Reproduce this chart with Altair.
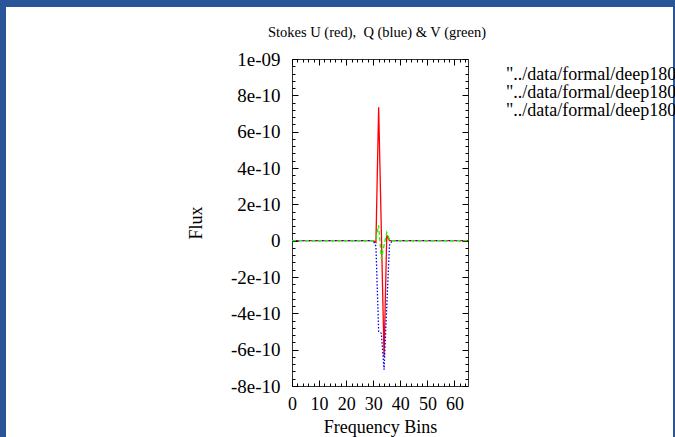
import altair as alt
import pandas as pd

# ---------------- data ----------------
bins = list(range(66))
stokes_u = [0, 0, 0, 0, 0, 0, 0, 0, 0, 0,
            0, 0, 0, 0, 0, 0, 0, 0, 0, 0,
            0, 0, 0, 0, 0, 0, 0, 0, 0, 0,
            0, -0.1e-10, 7.35e-10, 0.5e-10, -6.4e-10, 0.3e-10, 0, 0, 0, 0,
            0, 0, 0, 0, 0, 0, 0, 0, 0, 0,
            0, 0, 0, 0, 0, 0, 0, 0, 0, 0,
            0, 0, 0, 0, 0, 0]
stokes_q = [0, 0, 0, 0, 0, 0, 0, 0, 0, 0,
            0, 0, 0, 0, 0, 0, 0, 0, 0, 0,
            0, 0, 0, 0, 0, 0, 0, 0, 0, 0,
            0, -0.3e-10, -5.0e-10, -5.1e-10, -7.1e-10, -3.6e-10, -0.25e-10, 0, 0, 0,
            0, 0, 0, 0, 0, 0, 0, 0, 0, 0,
            0, 0, 0, 0, 0, 0, 0, 0, 0, 0,
            0, 0, 0, 0, 0, 0]
stokes_v = [0, 0, 0, 0, 0, 0, 0, 0, 0, 0,
            0, 0, 0, 0, 0, 0, 0, 0, 0, 0,
            0, 0, 0, 0, 0, 0, 0, 0, 0, 0,
            0, 0.1e-10, 0.85e-10, -1.0e-10, -0.25e-10, 0.45e-10, 0.05e-10, 0, 0, 0,
            0, 0, 0, 0, 0, 0, 0, 0, 0, 0,
            0, 0, 0, 0, 0, 0, 0, 0, 0, 0,
            0, 0, 0, 0, 0, 0]
series_labels = ['"../data/formal/deep180_U.dat"',
                 '"../data/formal/deep180_Q.dat"',
                 '"../data/formal/deep180_V.dat"']
series_colors = ["#ff0000", "#0000ff", "#00ff00"]
series_dashes = [[1, 0], [1.5, 1.8], [4, 2.5]]

x_major = [0, 10, 20, 30, 40, 50, 60]
x_minor = [2, 4, 6, 8, 12, 14, 16, 18, 22, 24, 26, 28, 32, 34, 36, 38,
           42, 44, 46, 48, 52, 54, 56, 58, 62, 64]
y_major = [-8e-10, -6e-10, -4e-10, -2e-10, 0, 2e-10, 4e-10, 6e-10, 8e-10, 1e-9]
y_tick_labels = ["-8e-10", "-6e-10", "-4e-10", "-2e-10", "0",
                 "2e-10", "4e-10", "6e-10", "8e-10", "1e-09"]
y_minor = [k * 0.4e-10 for k in range(-20, 26) if k % 5 != 0]

title_text = "Stokes U (red),\u00a0 Q (blue) & V (green)"

# ---------------- build ----------------
rows = []
for lab, vals in zip(series_labels, [stokes_u, stokes_q, stokes_v]):
    for b, v in zip(bins, vals):
        rows.append({"bin": b, "flux": v, "series": lab})
df = pd.DataFrame(rows)

W, H = 176, 327
FONT = "Liberation Serif"
BLUE = "#2a5699"
xscale = alt.Scale(domain=[0, 65], nice=False, zero=False)
yscale = alt.Scale(domain=[-8e-10, 1e-9], nice=False, zero=False)

label_expr = "[" + ",".join(f"'{s}'" for s in y_tick_labels) + "][round((datum.value + 8e-10) / 2e-10)]"

lines = alt.Chart(df).mark_line(strokeWidth=1.3).encode(
    x=alt.X("bin:Q", scale=xscale, axis=alt.Axis(
        orient="bottom", values=x_major, ticks=False, tickSize=0, domain=False, grid=False,
        labelFont=FONT, labelFontSize=18, labelColor="black", labelPadding=9,
        labelFlush=False, labelOverlap=False,
        title="Frequency Bins", titleFont=FONT, titleFontSize=18, titleFontWeight="normal",
        titleColor="black", titleY=46, titleBaseline="alphabetic")),
    y=alt.Y("flux:Q", scale=yscale, axis=alt.Axis(
        orient="left", values=y_major, ticks=False, tickSize=0, domain=False, grid=False,
        labelExpr=label_expr, labelFont=FONT, labelFontSize=19, labelColor="black",
        labelPadding=12, labelFlush=False, labelOverlap=False,
        title="Flux", titleFont=FONT, titleFontSize=18, titleFontWeight="normal",
        titleColor="black", titleX=-96, titleY=H / 2, titleBaseline="middle",
        titleAlign="center")),
    color=alt.Color("series:N", scale=alt.Scale(domain=series_labels, range=series_colors),
                    legend=alt.Legend(
                        title=None, orient="none", legendX=196, legendY=7,
                        symbolOpacity=0, symbolSize=0, symbolStrokeWidth=0,
                        labelOffset=0, padding=0, rowPadding=0,
                        labelFont=FONT, labelFontSize=18, labelColor="black",
                        labelLimit=1000)),
    strokeDash=alt.StrokeDash("series:N", scale=alt.Scale(domain=series_labels, range=series_dashes),
                              legend=None),
)


def x_ticks(values, size, orient):
    return alt.Chart(df).mark_point(opacity=0).encode(
        x=alt.X("bin:Q", scale=xscale, axis=alt.Axis(
            orient=orient, offset=-H, values=values, labels=False, domain=False, grid=False,
            ticks=True, tickSize=size, tickColor="black", tickWidth=1, title=None))
    )


def y_ticks(values, size, orient):
    return alt.Chart(df).mark_point(opacity=0).encode(
        y=alt.Y("flux:Q", scale=yscale, axis=alt.Axis(
            orient=orient, offset=-W, values=values, labels=False, domain=False, grid=False,
            ticks=True, tickSize=size, tickColor="black", tickWidth=1, title=None))
    )


tick_layers = [
    x_ticks(x_major, 6, "top"), x_ticks(x_minor, 3, "top"),
    x_ticks(x_major, 6, "bottom"), x_ticks(x_minor, 3, "bottom"),
    y_ticks(y_major, 6, "right"), y_ticks(y_minor, 3, "right"),
    y_ticks(y_major, 6, "left"), y_ticks(y_minor, 3, "left"),
]

one = pd.DataFrame({"a": [0]})
title_layer = alt.Chart(pd.DataFrame({"t": [title_text]})).mark_text(
    font=FONT, fontSize=14.5, color="black", align="center", baseline="middle"
).encode(text="t:N", x=alt.value(W / 2 - 3), y=alt.value(-26))

frame_top = alt.Chart(one).mark_rect(color=BLUE).encode(
    x=alt.value(-292), x2=alt.value(383), y=alt.value(-59), y2=alt.value(-52))
frame_left = alt.Chart(one).mark_rect(color=BLUE).encode(
    x=alt.value(-292), x2=alt.value(-286), y=alt.value(-59), y2=alt.value(378))
frame_right = alt.Chart(one).mark_rect(color=BLUE).encode(
    x=alt.value(381), x2=alt.value(383), y=alt.value(-59), y2=alt.value(378))

chart = alt.layer(lines, *tick_layers, title_layer, frame_top, frame_left, frame_right).resolve_axis(
    x="independent", y="independent"
).properties(
    width=W, height=H,
    autosize=alt.AutoSizeParams(type="none"),
    padding={"left": 292, "top": 59, "right": 207, "bottom": 51},
).configure(
    background="white",
).configure_view(
    stroke="#333333", strokeWidth=1
)

chart.save("out.html", embed_options={"renderer": "svg", "actions": False})
